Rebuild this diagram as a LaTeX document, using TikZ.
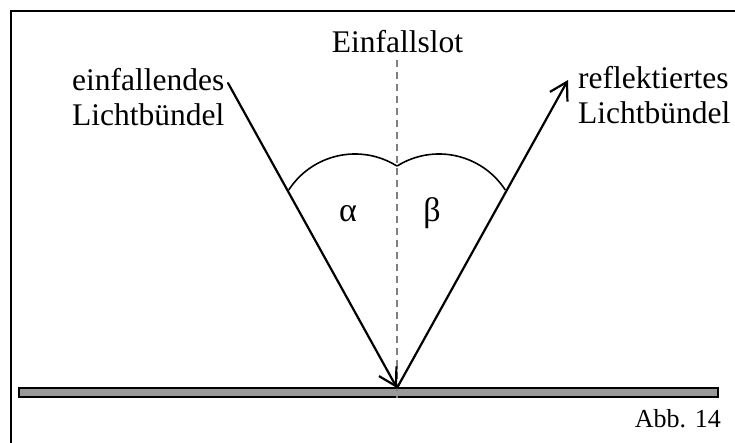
\documentclass[tikz,border=0pt]{standalone}
\usepackage{fontspec}
\setmainfont{Liberation Serif}
\usetikzlibrary{arrows.meta}
\definecolor{mirrorgray}{RGB}{153,153,153}
\definecolor{lotgray}{RGB}{128,128,128}
\begin{document}
\begin{tikzpicture}[x=1pt,y=1pt,
  lbl/.style={inner sep=0pt, font=\fontsize{31.5}{35}\selectfont},
  greek/.style={inner sep=0pt, font=\fontsize{34}{36}\selectfont},
  ray/.style={line width=2.2pt, line cap=round, -{Straight Barb[length=17pt,width=20pt,line width=2.2pt]}},
  anglearc/.style={line width=1.6pt},
  lotline/.style={draw=lotgray, line width=1.3pt, dash pattern=on 7pt off 5pt},
  framestyle/.style={line width=2pt}]
\useasboundingbox (0,0) rectangle (735,443);
% frame
\draw[framestyle] (11,0) -- (11,432) -- (736,432);
% mirror
\draw[fill=mirrorgray, line width=1.6pt] (19,46) rectangle (718,55);
% points
\coordinate (P) at (397,55);
\coordinate (S) at (228,360);
\coordinate (E) at (568,363);
\coordinate (LT) at (397,383);
\coordinate (LB) at (397,45);
% Einfallslot
\draw[lotline] (LT) -- (LB);
\node[lbl, anchor=base] (lot) at (397.5,390) {Einfallslot};
% angle arcs
\draw[anglearc] (355,210) ++(147:79) arc[start angle=147, end angle=58, radius=79];
\draw[anglearc] (439,210) ++(122:79) arc[start angle=122, end angle=33, radius=79];
% rays
\draw[ray] (S) -- (P);
\draw[ray] (P) -- (E);
% labels
\node[lbl, anchor=base west, align=left] (inc) at (72,317) {einfallendes\\Lichtbündel};
\node[lbl, anchor=base west, align=left] (refl) at (578,319) {reflektiertes\\Lichtbündel};
\node[greek, anchor=base] (alpha) at (348,221) {α};
\node[greek, anchor=base] (beta) at (432,221) {β};
\node[inner sep=0pt, font=\fontsize{26}{30}\selectfont, anchor=base east] (abb) at (721,15) {Abb. 14};
\end{tikzpicture}
\end{document}
